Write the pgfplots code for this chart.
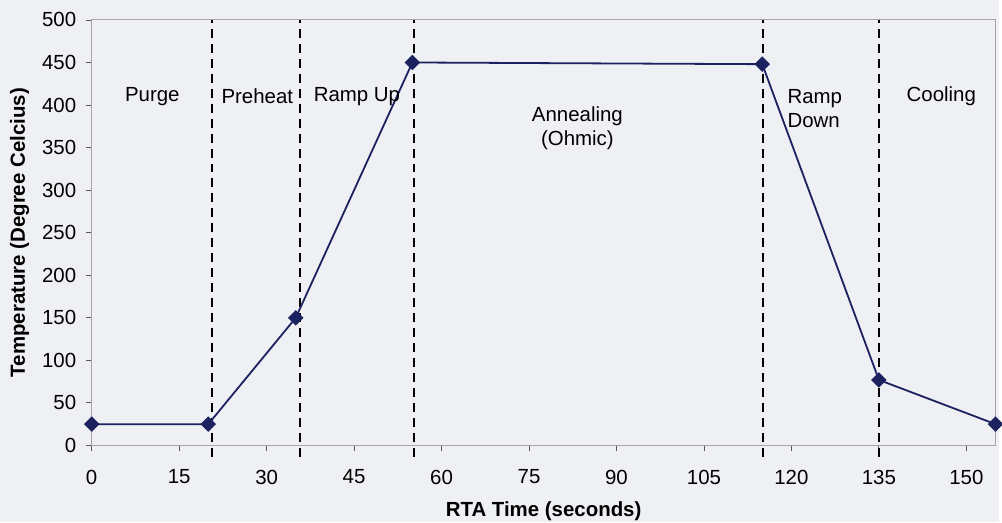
\documentclass[border=0pt]{standalone}
\usepackage{pgfplots}
\pgfplotsset{compat=1.18}
\usetikzlibrary{backgrounds}
\usepackage{fontspec}
\setmainfont{Liberation Sans}
\definecolor{navy}{HTML}{1C2160}
\definecolor{bg}{HTML}{EEF0F3}
\begin{document}
\begin{tikzpicture}
\begin{axis}[
  scale only axis, width=907pt, height=427pt,
  xmin=0, xmax=155, ymin=0, ymax=500,
  xtick={0,15,...,150}, ytick={0,50,...,500},
  tick align=outside, major tick length=6pt,
  tick style={gray!70!black, line width=0.8pt},
  axis line style={gray!70, line width=0.9pt},
  xtick pos=bottom, ytick pos=left,
  clip=false,
  font=\fontsize{20.5}{24}\selectfont,
  /pgf/number format/assume math mode=true,
  xticklabel style={yshift=-15pt},
  yticklabel style={xshift=-6pt},
  xlabel={\bfseries RTA Time (seconds)},
  ylabel={\bfseries Temperature (Degree Celcius)},
  xlabel style={yshift=-13pt, inner sep=1pt},
  ylabel style={yshift=6pt},
]
\addplot[black, line width=2pt, dash pattern=on 9pt off 6pt] coordinates {(20.7,-13) (20.7,500)};
\addplot[black, line width=2pt, dash pattern=on 9pt off 6pt] coordinates {(35.8,-13) (35.8,500)};
\addplot[black, line width=2pt, dash pattern=on 9pt off 6pt] coordinates {(55.2,-13) (55.2,500)};
\addplot[black, line width=2pt, dash pattern=on 9pt off 6pt] coordinates {(115.2,-13) (115.2,500)};
\addplot[black, line width=2pt, dash pattern=on 9pt off 6pt] coordinates {(135,-13) (135,500)};
\addplot[navy, line width=1.8pt, mark=square*, mark size=4.6pt, mark options={rotate=45, fill=navy}] coordinates {
(0,25) (20,25) (35,150) (55,450) (115,448) (135,77) (155,25)};
\node[font=\fontsize{20.5}{24}\selectfont] at (axis cs:10.4,410) {Purge};
\node[font=\fontsize{20.5}{24}\selectfont] at (axis cs:28.4,410) {Preheat};
\node[font=\fontsize{20.5}{24}\selectfont] at (axis cs:45.5,410) {Ramp Up};
\node[font=\fontsize{20.5}{24}\selectfont, align=center] at (axis cs:83.3,373) {Annealing\\(Ohmic)};
\node[font=\fontsize{20.5}{24}\selectfont, align=left] at (axis cs:124,396) {Ramp\\Down};
\node[font=\fontsize{20.5}{24}\selectfont] at (axis cs:145.7,410) {Cooling};
\end{axis}
\path (current axis.south west) ++(-92pt,-77pt) coordinate (bl);
\path (current axis.north east) ++(3pt,20pt) coordinate (tr);
\begin{scope}[on background layer]
\fill[bg] (bl) rectangle (tr);
\end{scope}
\end{tikzpicture}
\end{document}
